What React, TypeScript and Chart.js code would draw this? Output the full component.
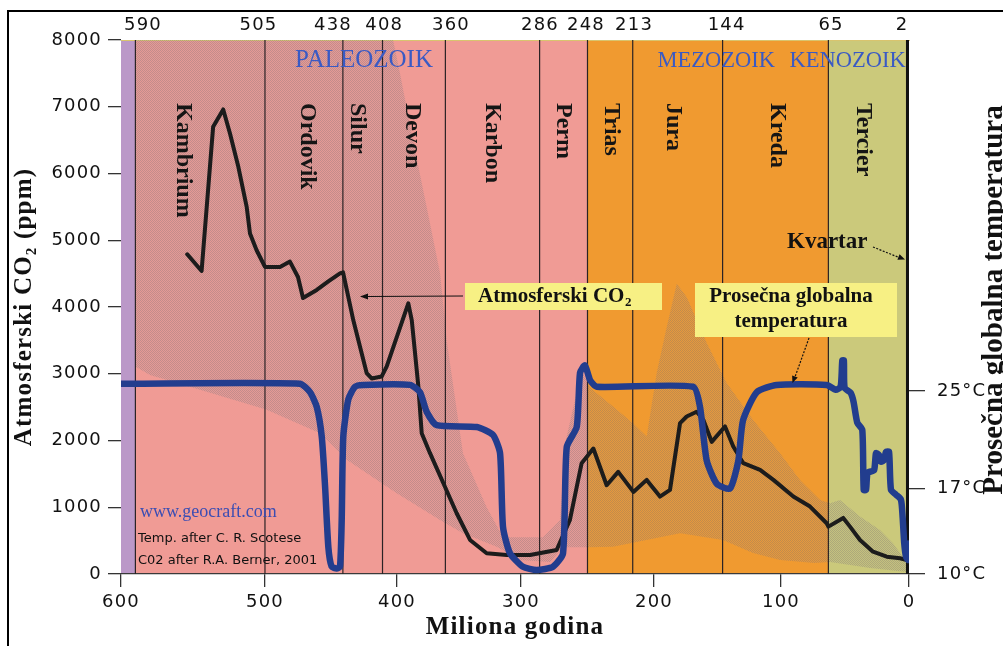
import React, { useEffect, useRef } from 'react';
import { Chart, registerables, LinearScale } from 'chart.js';

Chart.register(...registerables);

// ---------------- data ----------------
const AGE_TICKS = [600, 500, 400, 300, 200, 100, 0];
const CO2_TICKS = [0, 1000, 2000, 3000, 4000, 5000, 6000, 7000, 8000];
const TEMP_TICKS = [10, 17, 25];

const PERIOD_BOUNDARY_AGE = [590, 500, 441, 411, 361, 286, 250, 216, 146, 63, 1];
const PERIOD_BOUNDARY_LABELS = ['590', '505', '438', '408', '360', '286', '248', '213', '144', '65', '2'];
// where each top label is centred (in axis units)
const PERIOD_LABEL_AGE = [584.7, 504.5, 448.5, 409.7, 356.5, 285.7, 251.1, 215, 142.8, 60.9, 5.5];

const PERIOD_NAMES = ['Kambrium', 'Ordovik', 'Silur', 'Devon', 'Karbon', 'Perm', 'Trias', 'Jura', 'Kreda', 'Tercier'];
const PERIOD_NAME_AGE = [557, 468, 430, 388, 323, 268, 232, 185, 103, 36];

const ERA_NAMES = ['PALEOZOIK', 'MEZOZOIK', 'KENOZOIK'];
const ERA_NAME_AGE = [425, 151, 48];

const BAND_FROM_AGE = [600, 590, 250, 63];
const BAND_TO_AGE = [590, 250, 63, 0];

const CO2_AGE = [554, 544, 536, 529, 524.3, 518.5, 512.7, 510.4, 505.8, 500, 488.6, 481.1, 475, 471.2, 460.8, 452.3, 443.2, 440.9, 433.1, 423, 419.2, 411.6, 407.8, 390.9, 388.1, 382.8, 380.1, 373.4, 362.6, 351.9, 341.1, 327.7, 311.5, 293.2, 273.2, 263.2, 254.4, 245.6, 235.6, 226.9, 215.5, 205.5, 195.3, 187.4, 179.5, 174.3, 166.4, 161.2, 154.6, 144.1, 137.6, 129.7, 116.5, 106, 90.4, 77.3, 64.3, 63, 51.4, 46.1, 38.3, 28.1, 17.4, 7, 1.8];
const CO2_PPM = [4790, 4540, 6700, 6960, 6600, 6100, 5500, 5100, 4850, 4600, 4600, 4680, 4450, 4135, 4255, 4380, 4505, 4520, 3800, 3010, 2930, 2960, 3110, 4055, 3800, 2810, 2110, 1810, 1360, 910, 510, 310, 285, 285, 360, 810, 1660, 1880, 1330, 1530, 1230, 1410, 1160, 1260, 2260, 2360, 2430, 2310, 1980, 2210, 1910, 1660, 1560, 1410, 1160, 1010, 760, 710, 840, 710, 510, 335, 260, 235, 210];

const TEMP_AGE = [600, 473.5, 465.9, 460.8, 457, 454.5, 452, 449.5, 445.7, 443.2, 441.9, 440.7, 436.9, 431.8, 425.5, 389.5, 381.5, 376.1, 368, 335.7, 322.6, 316.9, 314.5, 308.9, 298.5, 288.2, 275.9, 268.4, 265.6, 258.1, 255.6, 251.9, 248.1, 243.1, 169.3, 163.8, 158.5, 150.6, 140.2, 133.6, 129.9, 119.1, 103.4, 64.3, 57.3, 53.4, 52.1, 50.9, 50.3, 45.6, 43.3, 40.4, 36.5, 35.4, 33.6, 32.3, 27.3, 25.8, 23.4, 21.9, 19.5, 18, 15.6, 14.1, 10.2, 6.3, 5, 3.7, 2.3, 0.6, 0];
const TEMP_C = [25.6, 25.6, 24.9, 23.7, 21.25, 17.2, 12.2, 10.6, 10.45, 10.6, 14.4, 21.25, 24.3, 25.35, 25.5, 25.5, 24.9, 23.3, 22.2, 22.05, 21.4, 19.9, 13.85, 11.7, 10.6, 10.33, 10.6, 11.7, 20.4, 22.05, 26.5, 27.1, 25.9, 25.35, 25.35, 23.7, 19.3, 17.4, 17.0, 19.3, 22.6, 24.9, 25.5, 25.5, 25.1, 25.35, 27.5, 27.5, 25.25, 24.85, 24.1, 22.4, 21.8, 16.9, 16.9, 18.3, 18.5, 19.9, 19.75, 19.2, 19.35, 20.0, 20.0, 16.9, 16.5, 16.1, 14.7, 12.5, 11.4, 11.15, 12.5];

const BAND_UPPER_AGE = [590, 403, 397.6, 387.1, 376.1, 365.3, 359.9, 357.3, 346.8, 327.7, 314.5, 283.5, 270.7, 266.2, 259.4, 253.4, 248.1, 230.8, 215.8, 205.5, 197.9, 190, 182.1, 174.3, 158.5, 142.8, 122.1, 100.8, 85.2, 69.5, 61.7, 53.9, 38.3, 22.7, 12.5, 1.5];
const BAND_UPPER_PPM = [8000, 8000, 7500, 6500, 5500, 4510, 3500, 3160, 1810, 1000, 550, 550, 810, 2010, 2610, 3010, 2790, 2510, 2260, 2060, 3010, 3700, 4350, 4150, 3460, 2860, 2310, 1810, 1410, 1110, 1060, 1110, 860, 660, 460, 165];
const BAND_LOWER_AGE = [590, 579.9, 545.1, 498.7, 458.3, 438.1, 400.2, 365.3, 346.8, 319.6, 301, 278.2, 268.4, 248.1, 230.8, 179.5, 145.7, 122.1, 100.8, 74.2, 61.7, 30.5, 1.6];
const BAND_LOWER_PPM = [3110, 2980, 2760, 2460, 2110, 1710, 1210, 810, 610, 410, 210, 180, 400, 400, 410, 610, 510, 315, 210, 165, 180, 90, 30];

// ---------------- styles ----------------
const SERIF = "'Liberation Serif', 'Times New Roman', serif";
const SANS = "'DejaVu Sans', Verdana, sans-serif";
const BAND_COLORS = ['#bb98c8', '#f09b95', '#f09a30', '#cbc97b'];
const ERA_FONT_SIZE = [25, 22.5, 22.5];

// calibration of the scanned time axis (fraction of plot width at each labelled tick)
const AGE_AXIS_FRACTION = [0, 0.1827, 0.3503, 0.5076, 0.6764, 0.8376, 1];

function ageToFraction(v: number) {
  const V = AGE_TICKS, F = AGE_AXIS_FRACTION;
  let i = 0;
  while (i < V.length - 2 && v < V[i + 1]) i++;
  return F[i] + ((v - V[i]) / (V[i + 1] - V[i])) * (F[i + 1] - F[i]);
}
function fractionToAge(f: number) {
  const V = AGE_TICKS, F = AGE_AXIS_FRACTION;
  let i = 0;
  while (i < F.length - 2 && f > F[i + 1]) i++;
  return V[i] + ((f - F[i]) / (F[i + 1] - F[i])) * (V[i + 1] - V[i]);
}

class CalibratedAgeScale extends LinearScale {
  static id = 'calibratedAge';
  getPixelForValue(value: any) {
    if (value === null || value === undefined || Number.isNaN(value)) return NaN;
    return this.left + ageToFraction(value) * this.width;
  }
  getValueForPixel(pixel: number) {
    return fractionToAge((pixel - this.left) / this.width);
  }
}
Chart.register(CalibratedAgeScale as any);

const zip = (xs: number[], ys: number[]) => xs.map((x, i) => ({ x, y: ys[i] }));

function makeTexture() {
  const c = document.createElement('canvas');
  c.width = 4; c.height = 4;
  const g = c.getContext('2d')!;
  for (let y = 0; y < 4; y++) {
    for (let x = 0; x < 4; x++) {
      const dark = (x + y) % 2 === 0;
      g.fillStyle = dark ? 'rgba(120,115,122,0.36)' : 'rgba(160,150,155,0.14)';
      g.fillRect(x, y, 1, 1);
    }
  }
  return g.createPattern(c, 'repeat');
}

function arrowHead(ctx: CanvasRenderingContext2D, fx: number, fy: number, tx: number, ty: number, len: number, half: number) {
  const a = Math.atan2(ty - fy, tx - fx);
  const bx = tx - len * Math.cos(a), by = ty - len * Math.sin(a);
  ctx.beginPath();
  ctx.moveTo(tx, ty);
  ctx.lineTo(bx + half * Math.sin(a), by - half * Math.cos(a));
  ctx.lineTo(bx - half * Math.sin(a), by + half * Math.cos(a));
  ctx.closePath();
  ctx.fill();
}

const geoPlugin = {
  id: 'geoAnnotations',
  beforeDraw(chart: any) {
    const { ctx, chartArea: a, scales } = chart;
    const x = scales.x;
    ctx.save();
    for (let i = 0; i < BAND_FROM_AGE.length; i++) {
      const x0 = x.getPixelForValue(BAND_FROM_AGE[i]);
      const x1 = x.getPixelForValue(BAND_TO_AGE[i]);
      ctx.fillStyle = BAND_COLORS[i];
      ctx.fillRect(x0, a.top, x1 - x0, a.bottom - a.top);
    }
    ctx.restore();
    (ctx as any).letterSpacing = '1.2px';
  },
  afterDraw(chart: any) {
    const { ctx, chartArea: a, scales } = chart;
    const x = scales.x;
    ctx.save();
    (ctx as any).letterSpacing = '0px';

    // era names
    ctx.fillStyle = '#3a5ac4';
    ctx.textAlign = 'center';
    ctx.textBaseline = 'alphabetic';
    ERA_NAMES.forEach((n, i) => {
      ctx.font = `${ERA_FONT_SIZE[i]}px ${SERIF}`;
      ctx.fillText(n, x.getPixelForValue(ERA_NAME_AGE[i]), a.top + 26.5);
    });

    // period names (vertical)
    ctx.font = `bold 24px ${SERIF}`;
    ctx.fillStyle = '#151515';
    PERIOD_NAMES.forEach((n, i) => {
      ctx.save();
      ctx.translate(x.getPixelForValue(PERIOD_NAME_AGE[i]), a.top + 63);
      ctx.rotate(Math.PI / 2);
      ctx.textAlign = 'left';
      ctx.textBaseline = 'middle';
      ctx.fillText(n, 0, 0);
      ctx.restore();
    });

    // credits
    ctx.textAlign = 'left';
    ctx.textBaseline = 'alphabetic';
    ctx.font = `18px ${SERIF}`;
    ctx.fillStyle = '#3b4db3';
    ctx.fillText('www.geocraft.com', 140, 517);
    ctx.font = `13px ${SANS}`;
    ctx.fillStyle = '#111';
    ctx.fillText('Temp. after C. R. Scotese', 138, 542);
    ctx.fillText('C02 after R.A. Berner, 2001', 138, 563.5);

    // CO2 label box
    ctx.fillStyle = '#f7f084';
    ctx.fillRect(465, 283, 197, 27);
    ctx.fillStyle = '#111';
    ctx.font = `bold 21px ${SERIF}`;
    ctx.fillText('Atmosferski CO', 478, 301.5);
    const w = ctx.measureText('Atmosferski CO').width;
    ctx.font = `bold 13px ${SERIF}`;
    ctx.fillText('2', 478 + w + 0.5, 305.5);
    ctx.strokeStyle = '#111';
    ctx.lineWidth = 1.2;
    ctx.beginPath();
    ctx.moveTo(463, 296);
    ctx.lineTo(366, 296.5);
    ctx.stroke();
    arrowHead(ctx, 400, 296.5, 360, 296.5, 8, 3);

    // temperature label box
    ctx.fillStyle = '#f7f084';
    ctx.fillRect(695, 283, 202, 54);
    ctx.fillStyle = '#111';
    ctx.font = `bold 21px ${SERIF}`;
    ctx.textAlign = 'center';
    ctx.fillText('Prosečna globalna', 791, 302);
    ctx.fillText('temperatura', 791, 326.5);
    ctx.setLineDash([2, 1.5]);
    ctx.beginPath();
    ctx.moveTo(809, 338);
    ctx.lineTo(795, 377);
    ctx.stroke();
    ctx.setLineDash([]);
    arrowHead(ctx, 809, 338, 792.5, 383, 7, 3);

    // Kvartar
    ctx.textAlign = 'left';
    ctx.font = `bold 23px ${SERIF}`;
    ctx.fillText('Kvartar', 787, 248.3);
    ctx.setLineDash([2, 1.5]);
    ctx.beginPath();
    ctx.moveTo(873, 247);
    ctx.lineTo(899, 257.5);
    ctx.stroke();
    ctx.setLineDash([]);
    arrowHead(ctx, 873, 247, 905, 259.5, 7, 3);

    // right axis title
    ctx.save();
    ctx.translate(1002, 300);
    ctx.rotate(-Math.PI / 2);
    ctx.textAlign = 'center';
    ctx.font = `bold 29px ${SERIF}`;
    ctx.fillStyle = '#111';
    ctx.fillText('Prosečna globalna temperatura', 0, 0);
    ctx.restore();

    // frame
    ctx.fillStyle = '#000';
    ctx.fillRect(7, 10, 996, 2);
    ctx.fillRect(7, 10, 2, 636);
    ctx.restore();
  },
};

export default function App() {
  const ref = useRef<HTMLCanvasElement>(null);
  useEffect(() => {
    const canvas = ref.current;
    if (!canvas) return;
    const texture = makeTexture();
    const tickFont = { family: SANS, size: 18 };
    const boundaryData: any[] = [];
    PERIOD_BOUNDARY_AGE.slice(0, -1).forEach((b) => {
      boundaryData.push({ x: b, y: 0 }, { x: b, y: 8000 }, { x: b, y: null });
    });
    const lastB = PERIOD_BOUNDARY_AGE[PERIOD_BOUNDARY_AGE.length - 1];

    const chart = new Chart(canvas, {
      type: 'line',
      data: {
        datasets: [
          { label: 'band-lower', data: zip(BAND_LOWER_AGE, BAND_LOWER_PPM), xAxisID: 'x', yAxisID: 'y', borderColor: 'transparent', borderWidth: 0, fill: false, order: 5 },
          { label: 'band-upper', data: zip(BAND_UPPER_AGE, BAND_UPPER_PPM), xAxisID: 'x', yAxisID: 'y', borderColor: 'transparent', borderWidth: 0, fill: '-1', backgroundColor: texture as any, order: 4 },
          { label: 'boundaries', data: boundaryData, xAxisID: 'x', yAxisID: 'y', borderColor: '#2b2325', borderWidth: 1.2, spanGaps: false, fill: false, order: 3 },
          { label: 'boundary-now', data: [{ x: lastB, y: 0 }, { x: lastB, y: 8000 }], xAxisID: 'x', yAxisID: 'y', borderColor: '#111', borderWidth: 3.5, fill: false, order: 3 },
          { label: 'Atmosferski CO2', data: zip(CO2_AGE, CO2_PPM), xAxisID: 'x', yAxisID: 'y', borderColor: '#1c1c1c', borderWidth: 4, tension: 0, fill: false, borderJoinStyle: 'round', borderCapStyle: 'round', order: 1 },
          { label: 'Temperatura', data: zip(TEMP_AGE, TEMP_C), xAxisID: 'x', yAxisID: 'yT', borderColor: '#223d8e', borderWidth: 6.5, tension: 0.2, fill: false, borderJoinStyle: 'round', borderCapStyle: 'round', order: 0 },
        ] as any,
      },
      options: {
        responsive: false,
        devicePixelRatio: 1,
        animation: false,
        layout: { padding: 0 },
        elements: { point: { radius: 0, hoverRadius: 0 } },
        plugins: { legend: { display: false }, tooltip: { enabled: false }, filler: { propagate: false } },
        events: [],
        scales: {
          x: {
            type: 'calibratedAge' as any,
            position: 'bottom',
            min: 0,
            max: 600,
            afterBuildTicks: (s: any) => { s.ticks = AGE_TICKS.map((v) => ({ value: v })); },
            afterFit: (s: any) => { s.height = 72; },
            ticks: { font: tickFont, color: '#111', padding: 5, autoSkip: false, maxRotation: 0, callback: (v: any) => String(v) },
            grid: { drawOnChartArea: false, drawTicks: true, tickLength: 13, color: '#333', lineWidth: 1.3 },
            border: { display: true, color: '#3a3a3a', width: 1.3 },
            title: { display: true, text: 'Miliona godina', color: '#111', font: { family: SERIF, size: 25, weight: 'bold' }, padding: { top: 0, bottom: 3 } },
          },
          xTop: {
            type: 'calibratedAge' as any,
            position: 'top',
            min: 0,
            max: 600,
            afterBuildTicks: (s: any) => { s.ticks = PERIOD_LABEL_AGE.map((v) => ({ value: v })); },
            afterFit: (s: any) => { s.height = 40; },
            ticks: {
              font: tickFont, color: '#111', padding: 4, autoSkip: false, maxRotation: 0,
              callback: (_v: any, i: number) => PERIOD_BOUNDARY_LABELS[i],
            },
            grid: { display: false, drawTicks: false },
            border: { display: true, color: '#d9c46e', width: 1, dash: [2, 1] },
          },
          y: {
            position: 'left',
            min: 0,
            max: 8000,
            afterBuildTicks: (s: any) => { s.ticks = CO2_TICKS.map((v) => ({ value: v })); },
            afterFit: (s: any) => { s.width = 121; },
            ticks: { font: tickFont, color: '#111', padding: 6, callback: (v: any) => String(v) },
            grid: { drawOnChartArea: false, drawTicks: true, tickLength: 13, color: '#333', lineWidth: 1.3 },
            border: { display: false },
            title: { display: true, text: 'Atmosferski CO₂ (ppm)', color: '#111', font: { family: SERIF, size: 25, weight: 'bold' }, padding: { top: 10, bottom: 0 } },
          },
          yT: {
            position: 'right',
            min: 10,
            max: 53.77,
            afterBuildTicks: (s: any) => { s.ticks = TEMP_TICKS.map((v) => ({ value: v })); },
            afterFit: (s: any) => { s.width = 94; },
            ticks: { font: tickFont, color: '#111', padding: 12, callback: (v: any) => `${v}°C` },
            grid: { drawOnChartArea: false, drawTicks: true, tickLength: 16, color: '#333', lineWidth: 1.3 },
            border: { display: false },
          },
        } as any,
      },
      plugins: [geoPlugin as any],
    });
    return () => chart.destroy();
  }, []);

  return (
    <div style={{ position: 'fixed', left: 0, top: 0, width: 1003, height: 646, background: '#fff' }}>
      <canvas ref={ref} width={1003} height={646} style={{ display: 'block', width: 1003, height: 646 }} />
    </div>
  );
}
